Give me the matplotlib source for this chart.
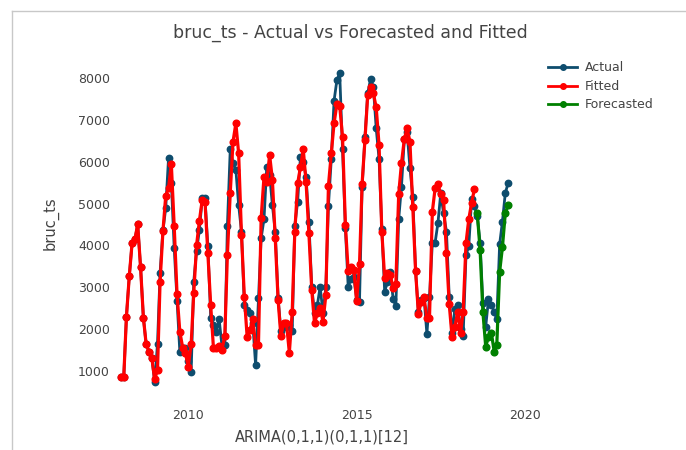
import matplotlib
matplotlib.use("Agg")
from matplotlib import pyplot as plt
import matplotlib.dates as mdates
from matplotlib.lines import Line2D
import pandas as pd
import numpy as np

# monthly series, Jan 2008 - Jul 2019
dates = pd.date_range("2008-01-01", periods=139, freq="MS")

actual = [
    850, 860, 2300, 3270, 4050, 4150, 4500, 3490, 2270, 1640, 1460, 1320,
    744, 1650, 3350, 4361, 4885, 6096, 5500, 3946, 2672, 1460, 1540, 1540,
    1250, 985, 3134, 3875, 4361, 5125, 5125, 3986, 2274, 2100, 1940, 2250,
    1600, 1620, 4464, 6296, 5960, 5800, 4965, 4330, 2577, 2450, 2378, 2146,
    1143, 2737, 4170, 4624, 5880, 5683, 4965, 4330, 2750, 1963, 2100, 2058,
    2100, 1960, 4472, 5045, 6104, 6000, 5640, 4567, 3013, 2378, 2577, 3013,
    2378, 3013, 4949, 6065, 7457, 7952, 8112, 6296, 4409, 3013, 3200, 3253,
    2700, 2656, 5388, 6583, 7634, 7976, 7793, 6800, 6065, 4400, 2895, 3134,
    3373, 2712, 2560, 4624, 5404, 6536, 6700, 5858, 5164, 3400, 2400, 2700,
    2750, 1884, 2760, 4065, 4065, 4543, 5246, 4764, 4330, 2775, 1900, 2473,
    2577, 2000, 1836, 3770, 3980, 5101, 4933, 4700, 4065, 2617, 2058, 2712,
    2577, 2417, 2235, 4034, 4567, 5246, 5484,
]

fitted = [
    850, 860, 2300, 3270, 4050, 4150, 4500, 3490, 2270, 1640, 1460, 1320,
    800, 1024, 3134, 4345, 5181, 5380, 5946, 4464, 2832, 1940, 1560, 1420,
    1103, 1645, 2855, 4010, 4583, 5085, 5045, 3810, 2577, 1540, 1560, 1600,
    1510, 1830, 3770, 5250, 6480, 6918, 6200, 4250, 2775, 1820, 1980, 2235,
    1621, 1621, 4647, 5640, 5520, 6160, 5575, 4170, 2696, 1836, 2137, 2137,
    1437, 2417, 4314, 5480, 5866, 6296, 5520, 4290, 2935, 2137, 2378, 2497,
    2178, 2815, 5430, 6200, 6918, 7380, 7340, 6583, 4488, 3396, 3492, 3413,
    2680, 3556, 5467, 6520, 7594, 7793, 7634, 7300, 6400, 4330, 3214, 3334,
    3294, 2975, 3078, 5228, 5960, 6536, 6800, 6480, 4907, 3396, 2362, 2656,
    2760, 2258, 2258, 4806, 5364, 5467, 5228, 5085, 3826, 2600, 1804, 2058,
    2417, 1900, 2417, 4050, 4624, 5021, 5340,
]

forecasted = [4780, 3890, 2417, 1580, 1820, 1916, 1460, 1621, 3373, 3955, 4764, 4965]

n_fit = len(fitted)
fit_dates = dates[:n_fit]
fc_dates = dates[n_fit:n_fit + len(forecasted)]

c_actual = "#0e4d6e"
c_fitted = "#ff0000"
c_fc = "#008000"
txt = "#444444"

W, H = 686, 450
fig = plt.figure(figsize=(W / 100, H / 100), dpi=100)
fig.patch.set_facecolor("white")

# plot area in pixels (left, right, top, bottom)
L, R, T, B = 114, 530, 55, 392
ax = fig.add_axes([L / W, 1 - B / H, (R - L) / W, (B - T) / H])

ax.plot(dates, actual, color=c_actual, lw=2, marker="o", ms=4.6, zorder=2, clip_on=False)
ax.plot(fit_dates, fitted, color=c_fitted, lw=2.3, marker="o", ms=4.8, zorder=3, clip_on=False)
ax.plot(fc_dates, forecasted, color=c_fc, lw=2.3, marker="o", ms=4.8, zorder=4, clip_on=False)

# x range so that 2010 / 2020 land where they are in the picture
d10 = mdates.date2num(pd.Timestamp("2010-01-01"))
d20 = mdates.date2num(pd.Timestamp("2020-01-01"))
px10, px20 = 188.3, 525
ppd = (px20 - px10) / (d20 - d10)
ax.set_xlim(d10 - (px10 - L) / ppd, d20 + (R - px20) / ppd)

# y range: 8000 at y=78 px, 1000 at y=371 px
ppu = (371 - 78) / 7000
ax.set_ylim(1000 - (B - 371) / ppu, 8000 + (78 - T) / ppu)

ax.set_xticks([mdates.date2num(pd.Timestamp(f"{y}-01-01")) for y in (2010, 2015, 2020)])
ax.xaxis.set_major_formatter(mdates.DateFormatter("%Y"))
ax.set_yticks(np.arange(1000, 8001, 1000))

for s in ax.spines.values():
    s.set_visible(False)
ax.tick_params(length=0, labelsize=9, labelcolor=txt)
ax.tick_params(axis="x", pad=12)
ax.tick_params(axis="y", pad=3)

ax.set_xlabel("ARIMA(0,1,1)(0,1,1)[12]", fontsize=10.5, color=txt, labelpad=6)
ax.set_ylabel("bruc_ts", fontsize=10.5, color=txt, labelpad=14)

fig.text(350 / W, 1 - 33 / H, "bruc_ts - Actual vs Forecasted and Fitted",
         ha="center", va="center", fontsize=12.5, color=txt)

handles = [
    Line2D([], [], color=c_actual, lw=2, marker="o", ms=4),
    Line2D([], [], color=c_fitted, lw=2, marker="o", ms=4),
    Line2D([], [], color=c_fc, lw=2, marker="o", ms=4),
]
fig.legend(handles, ["Actual", "Fitted", "Forecasted"], loc="upper left",
           bbox_to_anchor=(537 / W, 1 - 50 / H), frameon=False, fontsize=9,
           labelcolor=txt, handlelength=2.3, handletextpad=0.6, labelspacing=0.45)

# frame lines of the screenshot
fig.add_artist(Line2D([12 / W, 1], [1 - 11 / H, 1 - 11 / H], color="#c8c8c8", lw=1))
fig.add_artist(Line2D([12 / W, 12 / W], [1 - 11 / H, 0], color="#c8c8c8", lw=1))

fig.savefig("out.png", dpi=100)
